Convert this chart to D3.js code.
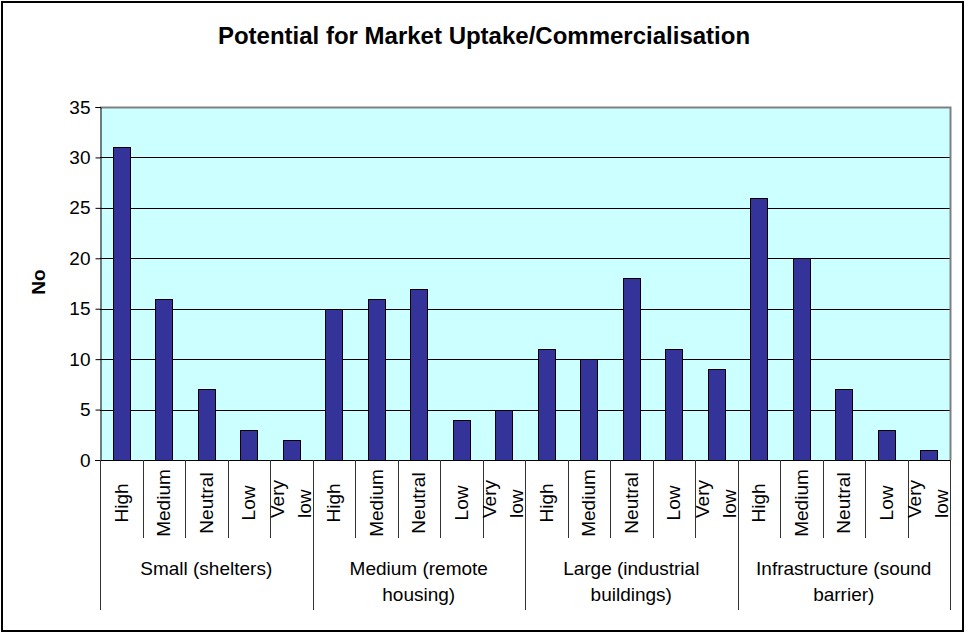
<!DOCTYPE html>
<html>
<head>
<meta charset="utf-8">
<script src="https://cdn.jsdelivr.net/npm/d3@7"></script>
<style>
  body { margin: 0; background: #fff; }
  text { font-family: "Liberation Sans", Arial, sans-serif; }
</style>
</head>
<body>
<div id="container"></div>
<script>
// data
var groups = ["Small (shelters)", "Medium (remote housing)", "Large (industrial buildings)", "Infrastructure (sound barrier)"];
var groupLines = [["Small (shelters)"], ["Medium (remote", "housing)"], ["Large (industrial", "buildings)"], ["Infrastructure (sound", "barrier)"]];
var levels = ["High", "Medium", "Neutral", "Low", "Very low"];
var smallVals = [31, 16, 7, 3, 2];
var mediumVals = [15, 16, 17, 4, 5];
var largeVals = [11, 10, 18, 11, 9];
var infraVals = [26, 20, 7, 3, 1];
var yTicks = [0, 5, 10, 15, 20, 25, 30, 35];

var allVals = [smallVals, mediumVals, largeVals, infraVals];
var rows = [];
groups.forEach(function(g, gi) {
  levels.forEach(function(l, li) {
    rows.push({group: gi, level: l, key: gi + "-" + li, value: allVals[gi][li]});
  });
});

var width = 966, height = 635;
var plotL = 100, plotR = 950, plotT = 107, plotB = 460;
var fs = "19px";

var svg = d3.select("#container").append("svg")
  .attr("width", width)
  .attr("height", height);

// outer frame
svg.append("rect")
  .attr("x", 2).attr("y", 2)
  .attr("width", 961).attr("height", 629)
  .attr("fill", "#fff")
  .attr("stroke", "#000")
  .attr("stroke-width", 2);

var x = d3.scaleBand()
  .domain(rows.map(function(d) { return d.key; }))
  .range([plotL, plotR])
  .paddingInner(0.6)
  .paddingOuter(0.3);

var y = d3.scaleLinear()
  .domain([0, 35])
  .range([plotB, plotT]);

// plot area
svg.append("rect")
  .attr("x", plotL).attr("y", plotT)
  .attr("width", plotR - plotL).attr("height", plotB - plotT)
  .attr("fill", "#ccffff");

// gridlines
svg.append("g")
  .selectAll("line")
  .data(yTicks.filter(function(t) { return t > 0 && t < 35; }))
  .enter()
  .append("line")
  .attr("x1", plotL).attr("x2", plotR)
  .attr("y1", function(d) { return Math.round(y(d)) + 0.5; })
  .attr("y2", function(d) { return Math.round(y(d)) + 0.5; })
  .attr("stroke", "#000")
  .attr("stroke-width", 1);

// plot border (gray)
svg.append("path")
  .attr("d", "M" + plotL + "," + (plotT + 0.5) + "H" + (plotR + 0.5) + "V" + plotB)
  .attr("fill", "none")
  .attr("stroke", "#808080")
  .attr("stroke-width", 2);

// bars
svg.append("g")
  .selectAll("rect")
  .data(rows)
  .enter()
  .append("rect")
  .attr("x", function(d) { return Math.round(x(d.key)) + 0.5; })
  .attr("y", function(d) { return Math.round(y(d.value)) + 0.5; })
  .attr("width", Math.round(x.bandwidth()))
  .attr("height", function(d) { return plotB - Math.round(y(d.value)); })
  .attr("fill", "#333399")
  .attr("stroke", "#000")
  .attr("stroke-width", 1);

// y axis
var yAxis = d3.axisLeft(y)
  .tickValues(yTicks)
  .tickSize(5)
  .tickPadding(5)
  .tickFormat(d3.format("d"));

var yg = svg.append("g")
  .attr("transform", "translate(" + (plotL + 0.5) + ",0)")
  .call(yAxis);
yg.select(".domain").attr("stroke", "#000");
yg.selectAll(".tick line").attr("stroke", "#000");
yg.selectAll(".tick text")
  .attr("fill", "#000")
  .style("font-size", fs)
  .style("font-family", "'Liberation Sans', Arial, sans-serif");

// x axis baseline
svg.append("line")
  .attr("x1", plotL - 5).attr("x2", plotR)
  .attr("y1", plotB + 0.5).attr("y2", plotB + 0.5)
  .attr("stroke", "#000");

// category separators
var step = (plotR - plotL) / rows.length;
var sepX = d3.range(rows.length + 1);
svg.append("g")
  .selectAll("line")
  .data(sepX)
  .enter()
  .append("line")
  .attr("x1", function(i) { return Math.round(plotL + i * step) + 0.5; })
  .attr("x2", function(i) { return Math.round(plotL + i * step) + 0.5; })
  .attr("y1", plotB)
  .attr("y2", function(i) { return i % 5 === 0 ? 610 : 538; })
  .attr("stroke", "#333")
  .attr("stroke-width", 1);

// category labels (rotated)
var catG = svg.append("g");
rows.forEach(function(d, i) {
  var cx = plotL + (i + 0.5) * step;
  if (d.level === "Very low") {
    catG.append("text")
      .attr("transform", "translate(" + (cx - 14) + ",518) rotate(-90)")
      .attr("dy", "0.35em")
      .attr("text-anchor", "start")
      .style("font-size", fs)
      .text("Very");
    catG.append("text")
      .attr("transform", "translate(" + (cx + 13) + ",518) rotate(-90)")
      .attr("dy", "0.35em")
      .attr("text-anchor", "start")
      .style("font-size", fs)
      .text("low");
  } else {
    catG.append("text")
      .attr("transform", "translate(" + cx + ",503) rotate(-90)")
      .attr("dy", "0.35em")
      .attr("text-anchor", "middle")
      .style("font-size", fs)
      .text(d.level);
  }
});

// group labels
var grpG = svg.append("g");
groupLines.forEach(function(lines, gi) {
  var gx = plotL + (gi * 5 + 2.5) * step;
  var t = grpG.append("text")
    .attr("x", gx)
    .attr("y", 575)
    .attr("text-anchor", "middle")
    .style("font-size", fs);
  lines.forEach(function(ln, li) {
    t.append("tspan")
      .attr("x", gx)
      .attr("dy", li === 0 ? 0 : 26)
      .text(ln);
  });
});

// title
svg.append("text")
  .attr("x", 484)
  .attr("y", 44)
  .attr("text-anchor", "middle")
  .style("font-size", "24px")
  .style("font-weight", "bold")
  .text("Potential for Market Uptake/Commercialisation");

// y axis title
svg.append("text")
  .attr("transform", "translate(38.5,282) rotate(-90)")
  .attr("dy", "0.35em")
  .attr("text-anchor", "middle")
  .style("font-size", fs)
  .style("font-weight", "bold")
  .text("No");
</script>
</body>
</html>
